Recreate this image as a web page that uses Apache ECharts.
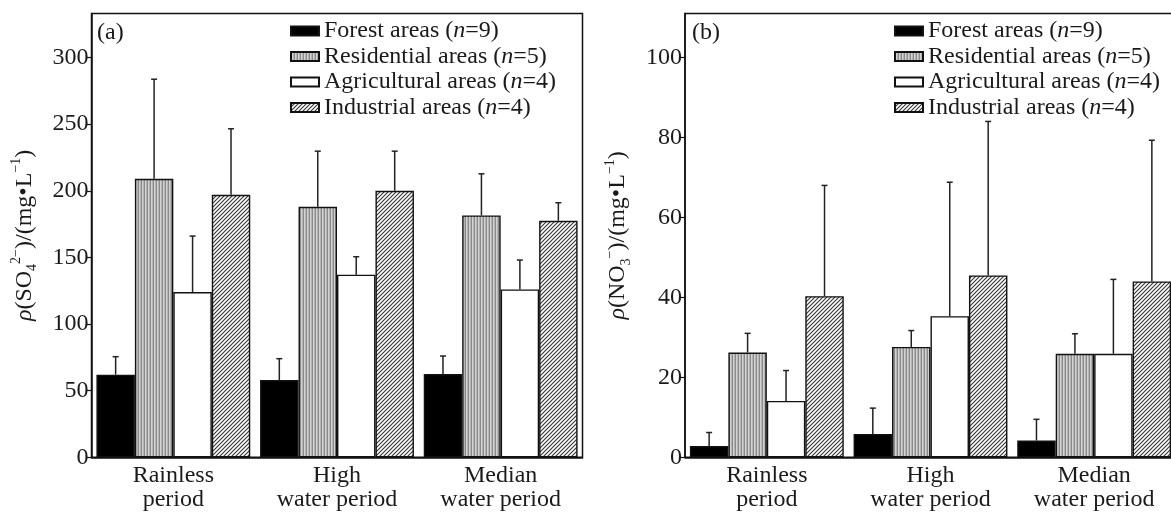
<!DOCTYPE html>
<html>
<head>
<meta charset="utf-8">
<script src="https://cdn.jsdelivr.net/npm/echarts@6/dist/echarts.min.js"></script>
<style>
html,body{margin:0;padding:0;background:#fff;}
#chart{width:1171px;height:513px;}
</style>
</head>
<body>
<div id="chart"></div>
<script>
// ---------- data ----------
const categories = ['Rainless\nperiod', 'High\nwater period', 'Median\nwater period'];
const seriesNames = ['Forest areas (n=9)', 'Residential areas (n=5)', 'Agricultural areas (n=4)', 'Industrial areas (n=4)'];

// Panel (a): SO4 2- (mg/L) means and upper error-bar ends
const so4Forest = [62, 58, 62.5];
const so4Residential = [209, 188, 181.5];
const so4Agricultural = [124, 137, 126];
const so4Industrial = [197, 200, 177.5];
const so4ForestUp = [75.5, 74, 76];
const so4ResidentialUp = [283.7, 229.7, 212.7];
const so4AgriculturalUp = [166, 150.5, 148];
const so4IndustrialUp = [246.5, 229.7, 191];

// Panel (b): NO3- (mg/L)
const no3Forest = [2.8, 5.8, 4.2];
const no3Residential = [26.2, 27.6, 25.9];
const no3Agricultural = [14.1, 35.3, 25.9];
const no3Industrial = [40.3, 45.5, 44];
const no3ForestUp = [6.2, 12.3, 9.5];
const no3ResidentialUp = [31, 31.7, 30.9];
const no3AgriculturalUp = [21.7, 68.8, 44.5];
const no3IndustrialUp = [68, 84, 79.3];

const so4Ticks = [0, 50, 100, 150, 200, 250, 300];
const no3Ticks = [0, 20, 40, 60, 80, 100];

// ---------- patterns ----------
function stripePattern() {
  const c = document.createElement('canvas');
  c.width = 3; c.height = 4;
  const g = c.getContext('2d');
  g.fillStyle = '#d2d2d2'; g.fillRect(0, 0, 3, 4);
  g.fillStyle = '#8a8a8a'; g.fillRect(0, 0, 1, 4);
  g.fillStyle = '#b4b4b4'; g.fillRect(2, 0, 1, 4);
  return c;
}
function hatchPattern() {
  const c = document.createElement('canvas');
  c.width = 4; c.height = 4;
  const g = c.getContext('2d');
  g.fillStyle = '#ffffff'; g.fillRect(0, 0, 4, 4);
  g.strokeStyle = '#333333'; g.lineWidth = 1.1;
  [[0, 4, 4, 0], [-1, 1, 1, -1], [3, 5, 5, 3]].forEach(function (l) {
    g.beginPath(); g.moveTo(l[0], l[1]); g.lineTo(l[2], l[3]); g.stroke();
  });
  return c;
}
const fills = [
  '#000000',
  { image: stripePattern(), repeat: 'repeat' },
  '#ffffff',
  { image: hatchPattern(), repeat: 'repeat' }
];

const FONT = "'Liberation Serif', 'Times New Roman', serif";
const TXT = '#1a1a1a';
const GAP = 0.06;

function legendLabel(name) {
  const m = name.match(/^(.*\()n(=\d\))$/);
  return '{t|' + m[1] + '}{i|n}{t|' + m[2] + '}';
}

function makeLegend(left) {
  return {
    data: seriesNames,
    orient: 'vertical',
    left: left, top: 19, padding: 0,
    itemWidth: 28, itemHeight: 9, itemGap: 1.5, itemTextGap: 4,
    icon: 'rect',
    selectedMode: false,
    formatter: legendLabel,
    textStyle: {
      fontFamily: FONT, fontSize: 24, color: TXT, lineHeight: 24,
      rich: {
        t: { fontFamily: FONT, fontSize: 24, color: TXT, lineHeight: 24 },
        i: { fontFamily: FONT, fontSize: 24, color: TXT, lineHeight: 24, fontStyle: 'italic' }
      }
    }
  };
}

const nameRich = {
  r: { fontFamily: FONT, fontSize: 24, color: TXT, fontStyle: 'italic', lineHeight: 30, verticalAlign: 'middle' },
  t: { fontFamily: FONT, fontSize: 24, color: TXT, lineHeight: 30, verticalAlign: 'middle' },
  sup: { fontFamily: FONT, fontSize: 14, color: TXT, lineHeight: 14, verticalAlign: 'top' },
  sub: { fontFamily: FONT, fontSize: 14, color: TXT, lineHeight: 14, verticalAlign: 'bottom' }
};

function yAxis(gridIndex, max, interval, ticks, name) {
  return {
    type: 'value', gridIndex: gridIndex, min: 0, max: max, interval: interval,
    name: name, nameLocation: 'middle', nameGap: 52, nameRotate: 90,
    nameTextStyle: { rich: nameRich },
    axisLine: { show: true, lineStyle: { color: '#111', width: 1.5 } },
    axisTick: { show: true, inside: false, length: 5, lineStyle: { color: '#111', width: 1.2 } },
    axisLabel: {
      fontFamily: FONT, fontSize: 24, color: TXT, margin: 3,
      showMaxLabel: false,
      formatter: function (v) { return ticks.indexOf(v) >= 0 ? String(v) : ''; }
    },
    splitLine: { show: false }
  };
}

function xAxis(gridIndex) {
  return {
    type: 'category', gridIndex: gridIndex, data: categories,
    axisLine: { show: true, lineStyle: { color: '#111', width: 1.5 } },
    axisTick: { show: false },
    axisLabel: { fontFamily: FONT, fontSize: 24, color: TXT, lineHeight: 24, margin: 6, interval: 0 }
  };
}

function barSeries(axisIndex, arrays) {
  return arrays.map(function (arr, k) {
    return {
      type: 'bar', name: seriesNames[k], xAxisIndex: axisIndex, yAxisIndex: axisIndex,
      data: arr, barGap: '0%', barCategoryGap: (GAP * 100) + '%',
      itemStyle: { color: fills[k], borderColor: '#111', borderWidth: 1.4 },
      emphasis: { disabled: true }, animation: false
    };
  });
}

function errSeries(axisIndex, means, ups) {
  const data = [];
  means.forEach(function (arr, k) {
    arr.forEach(function (v, i) { data.push([i, v, ups[k][i], k]); });
  });
  return {
    type: 'custom', name: 'err' + axisIndex, xAxisIndex: axisIndex, yAxisIndex: axisIndex,
    data: data, z: 5, animation: false, silent: true,
    renderItem: function (params, api) {
      const i = api.value(0), mean = api.value(1), up = api.value(2), k = api.value(3);
      const base = api.coord([i, mean]);
      const top = api.coord([i, up]);
      const band = api.size([1, 0])[0];
      const bw = band * (1 - GAP) / 4;
      const cx = base[0] + (k - 1.5) * bw;
      const st = { stroke: '#222', lineWidth: 1.5 };
      return {
        type: 'group', children: [
          { type: 'line', shape: { x1: cx, y1: base[1], x2: cx, y2: top[1] }, style: st },
          { type: 'line', shape: { x1: cx - 3, y1: top[1], x2: cx + 3, y2: top[1] }, style: st }
        ]
      };
    }
  };
}

const gridTop = 13.5, gridH = 443.8, gridW = 491;

const option = {
  backgroundColor: '#fff',
  animation: false,
  grid: [
    { left: 91.5, top: gridTop, width: gridW, height: gridH, show: true, borderColor: '#111', borderWidth: 1.5, containLabel: false, outerBoundsMode: 'none' },
    { left: 685, top: gridTop, width: gridW, height: gridH, show: true, borderColor: '#111', borderWidth: 1.5, containLabel: false, outerBoundsMode: 'none' }
  ],
  legend: [makeLegend(290), makeLegend(894)],
  xAxis: [xAxis(0), xAxis(1)],
  yAxis: [
    yAxis(0, 333, 50, so4Ticks, '{r|ρ}{t|(SO}{sub|4}{sup|2−}{t|)/(mg•L}{sup|−1}{t|)}'),
    yAxis(1, 111, 20, no3Ticks, '{r|ρ}{t|(NO}{sub|3}{sup|−}{t|)/(mg•L}{sup|−1}{t|)}')
  ],
  graphic: [
    { type: 'text', left: 97, top: 21, style: { text: '(a)', font: "24px 'Liberation Serif', serif", fill: TXT } },
    { type: 'text', left: 692, top: 21, style: { text: '(b)', font: "24px 'Liberation Serif', serif", fill: TXT } }
  ],
  series: [].concat(
    barSeries(0, [so4Forest, so4Residential, so4Agricultural, so4Industrial]),
    barSeries(1, [no3Forest, no3Residential, no3Agricultural, no3Industrial]),
    [errSeries(0, [so4Forest, so4Residential, so4Agricultural, so4Industrial],
                  [so4ForestUp, so4ResidentialUp, so4AgriculturalUp, so4IndustrialUp]),
     errSeries(1, [no3Forest, no3Residential, no3Agricultural, no3Industrial],
                  [no3ForestUp, no3ResidentialUp, no3AgriculturalUp, no3IndustrialUp])]
  )
};

const chart = echarts.init(document.getElementById('chart'), null, { renderer: 'canvas' });
chart.setOption(option);
</script>
</body>
</html>
